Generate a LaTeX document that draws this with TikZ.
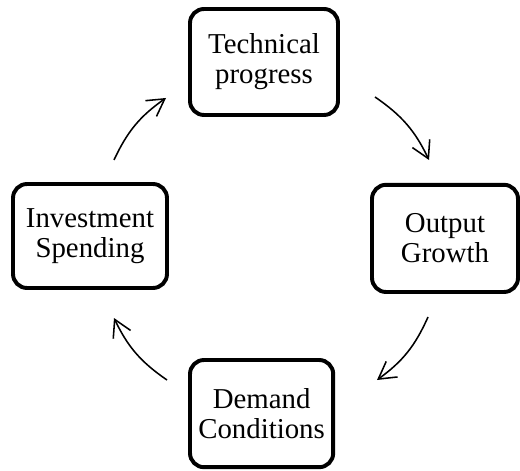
\documentclass[tikz,border=0pt]{standalone}
\usepackage{fontspec}
\setmainfont{Liberation Serif}
\usetikzlibrary{arrows.meta}

\tikzset{
  box/.style={draw, line width=2.8pt, rounded corners=10pt, align=center,
    font=\fontsize{20.5}{21.5}\selectfont},
  cycarrow/.style={line width=1.1pt, -{Straight Barb[length=0.42cm,width=0.48cm]}}
}

\begin{document}
\begin{tikzpicture}
\useasboundingbox (0,0) rectangle (13,11.75);
% the four stages
\node[box, minimum width=3.7cm, minimum height=2.65cm] (tech) at (6.6,10.2) {Technical\\progress};
\node[box, minimum width=3.65cm, minimum height=2.68cm] (output) at (11.125,5.79) {Output\\Growth};
\node[box, minimum width=3.58cm, minimum height=2.68cm] (demand) at (6.54,1.41) {Demand\\Conditions};
\node[box, minimum width=3.85cm, minimum height=2.6cm] (invest) at (2.25,5.85) {Investment\\Spending};
% arrow ends
\coordinate (a1s) at (9.375,9.325);
\coordinate (a1e) at (10.725,7.75);
\coordinate (a2s) at (10.7,3.825);
\coordinate (a2e) at (9.425,2.25);
\coordinate (a3s) at (4.175,2.25);
\coordinate (a3e) at (2.85,3.8);
\coordinate (a4s) at (2.85,7.75);
\coordinate (a4e) at (4.15,9.3);
\draw[cycarrow] (a1s) to[bend left=15] (a1e);
\draw[cycarrow] (a2s) to[bend left=15] (a2e);
\draw[cycarrow] (a3s) to[bend left=15] (a3e);
\draw[cycarrow] (a4s) to[bend left=15] (a4e);
\end{tikzpicture}
\end{document}
